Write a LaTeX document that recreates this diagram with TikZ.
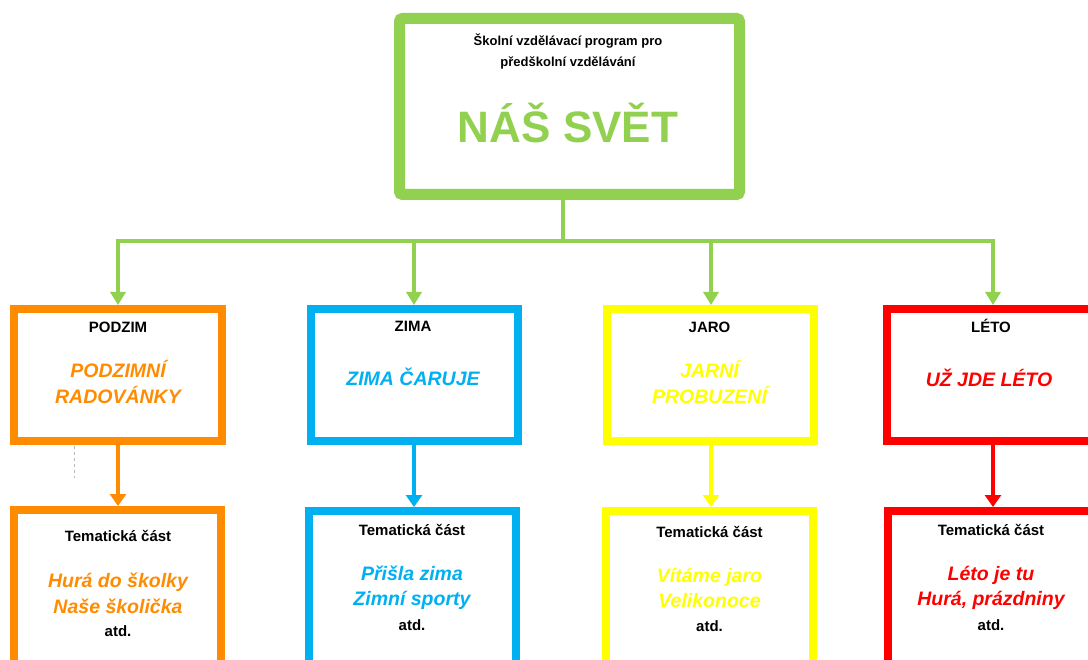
\documentclass[tikz,border=0pt]{standalone}
\usepackage{fontspec}
\setmainfont{Liberation Sans}
\usetikzlibrary{arrows.meta}
\definecolor{cgreen}{HTML}{92D050}
\definecolor{corange}{HTML}{FF8C00}
\definecolor{cblue}{HTML}{00B0F0}
\definecolor{cyellow}{HTML}{FFFF00}
\definecolor{cred}{HTML}{FF0000}
\tikzset{
  boxA/.style={draw=#1, line width=8pt, inner sep=0pt, outer sep=4pt, minimum width=207pt, minimum height=132pt},
  boxB/.style={draw=#1, line width=8pt, inner sep=0pt, outer sep=4pt, minimum width=207pt, minimum height=200pt, anchor=north},
  season/.style={anchor=base, inner sep=0pt, font=\fontsize{15}{18}\selectfont\bfseries},
  title/.style={anchor=base, inner sep=0pt, text=#1, font=\fontsize{19.5}{24}\selectfont\bfseries\itshape},
  small/.style={anchor=base, inner sep=0pt, font=\fontsize{13}{16}\selectfont\bfseries},
  link/.style={draw=cgreen, line width=3.5pt},
  garrow/.style={draw=cgreen, line width=3.5pt, -{Triangle[length=13pt,width=15pt]}},
  carrow/.style={draw=#1, line width=4pt, -{Triangle[length=12pt,width=16pt]}, color=#1},
}
\begin{document}
\begin{tikzpicture}[x=1pt,y=-1pt]
\useasboundingbox (0,0) rectangle (1088,660);
\clip (0,0) rectangle (1088,660);
\fill[white] (0,0) rectangle (1088,660);

% top box
\node[draw=cgreen, line width=11pt, rounded corners=3pt, inner sep=0pt, outer sep=5.5pt,
      minimum width=340pt, minimum height=176pt] (top) at (569.5,106.5) {};
\node[small] (t1) at (568,46) {Školní vzdělávací program pro};
\node[small] (t2) at (568,67) {předškolní vzdělávání};
\node[anchor=base, inner sep=0pt, text=cgreen, font=\fontsize{44}{50}\selectfont\bfseries] (t3) at (568,143) {NÁŠ SVĚT};

% row 1 boxes
\node[boxA=corange, minimum width=208pt] (p1) at (118,375) {};
\node[boxA=cblue] (z1) at (414.5,375) {};
\node[boxA=cyellow] (j1) at (710.5,375) {};
\node[boxA=cred, minimum width=208pt] (l1) at (991,375) {};

% row 2 boxes
\node[boxB=corange] (p2) at (117.5,506) {};
\node[boxB=cblue] (z2) at (412.5,507) {};
\node[boxB=cyellow] (j2) at (709.5,507) {};
\node[boxB=cred] (l2) at (991.5,507) {};

% green connectors
\coordinate (jc) at (563,241);
\coordinate (jp) at (118,241);
\coordinate (jz) at (414,241);
\coordinate (jj) at (711,241);
\coordinate (jl) at (993,241);
\draw[link] (top.south -| jc) -- (jc);
\draw[link, line cap=rect] (jp) -- (jl);
\draw[garrow] (jp) -- (p1.north -| jp);
\draw[garrow] (jz) -- (z1.north -| jz);
\draw[garrow] (jj) -- (j1.north -| jj);
\draw[garrow] (jl) -- (l1.north -| jl);

% coloured connectors
\coordinate (ap) at (118,445);
\coordinate (az) at (414,445);
\coordinate (aj) at (711,445);
\coordinate (al) at (993,445);
\draw[carrow=corange] (ap) -- (p2.north -| ap);
\draw[carrow=cblue] (az) -- (z2.north -| az);
\draw[carrow=cyellow] (aj) -- (j2.north -| aj);
\draw[carrow=cred] (al) -- (l2.north -| al);

% faint dashed mark
\coordinate (m1) at (74,446);
\coordinate (m2) at (74,478);
\draw[gray!55, line width=0.6pt, dash pattern=on 3pt off 3pt] (m1) -- (m2);

% PODZIM texts
\node[season] (p1a) at (118,333) {PODZIM};
\node[title=corange] (p1b) at (118,378) {PODZIMNÍ};
\node[title=corange] (p1c) at (118,404) {RADOVÁNKY};
\node[season] (p2a) at (118,541) {Tematická část};
\node[title=corange] (p2b) at (118,587) {Hurá do školky};
\node[title=corange] (p2c) at (118,613) {Naše školička};
\node[season] (p2d) at (118,636) {atd.};

% ZIMA texts
\node[season] (z1a) at (413,332) {ZIMA};
\node[title=cblue] (z1b) at (413,386) {ZIMA ČARUJE};
\node[season] (z2a) at (412,535) {Tematická část};
\node[title=cblue] (z2b) at (412,580) {Přišla zima};
\node[title=cblue] (z2c) at (412,605) {Zimní sporty};
\node[season] (z2d) at (412,630) {atd.};

% JARO texts
\node[season] (j1a) at (709.5,333) {JARO};
\node[title=cyellow] (j1b) at (709.5,378) {JARNÍ};
\node[title=cyellow] (j1c) at (709.5,404) {PROBUZENÍ};
\node[season] (j2a) at (709.5,537) {Tematická část};
\node[title=cyellow] (j2b) at (709.5,582) {Vítáme jaro};
\node[title=cyellow] (j2c) at (709.5,607) {Velikonoce};
\node[season] (j2d) at (709.5,631) {atd.};

% LETO texts
\node[season] (l1a) at (991,333) {LÉTO};
\node[title=cred] (l1b) at (989,387) {UŽ JDE LÉTO};
\node[season] (l2a) at (991,535) {Tematická část};
\node[title=cred] (l2b) at (991,580) {Léto je tu};
\node[title=cred] (l2c) at (991,605) {Hurá, prázdniny};
\node[season] (l2d) at (991,630) {atd.};
\end{tikzpicture}
\end{document}
